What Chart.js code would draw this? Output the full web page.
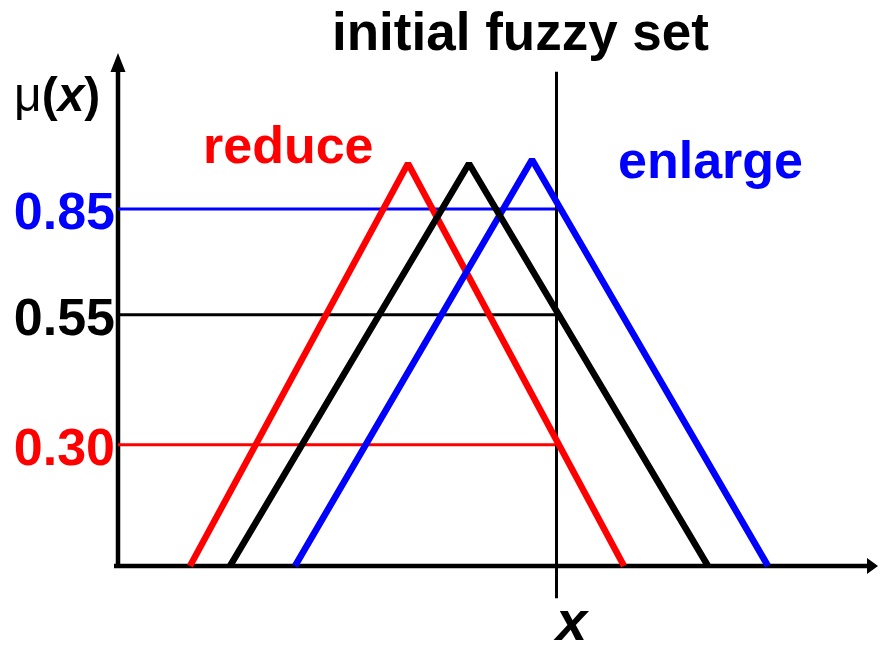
<!DOCTYPE html>
<html>
<head>
<meta charset="utf-8">
<script src="https://cdn.jsdelivr.net/npm/chart.js@4"></script>
<style>
  body { margin: 0; background: #fff; }
</style>
</head>
<body>
<canvas id="fuzzyChart" width="880" height="648"></canvas>
<script>
// crisp input position and the cut levels read at it
const inputX = 43.85;
const levelValues = [0.887, 0.624, 0.301];
const levelLabels = ['0.85', '0.55', '0.30'];
const levelColors = ['#0000ff', '#000000', '#ff0000'];

// triangle corners: left foot, peak, right foot
const initialX = [11.2, 35.1, 59.0];
const initialY = [0, 1, 0];
const enlargeX = [17.7, 41.4, 65.0];
const enlargeY = [0, 1.01, 0];
const reduceX = [7.2, 29.0, 50.6];
const reduceY = [0, 1, 0];

const FONT = '"Liberation Sans", Arial, sans-serif';

function zip(xs, ys) {
    return xs.map((x, i) => ({ x: x, y: ys[i] }));
}

function triangle(label, xs, ys, color) {
    return {
        label: label,
        data: zip(xs, ys),
        borderColor: color,
        borderWidth: 6.5,
        borderJoinStyle: 'bevel',
        pointRadius: 0,
        tension: 0,
        clip: false
    };
}

const datasets = [
    triangle('initial fuzzy set', initialX, initialY, '#000000'),
    triangle('enlarge', enlargeX, enlargeY, '#0000ff'),
    triangle('reduce', reduceX, reduceY, '#ff0000'),
    {
        label: 'x',
        data: [{ x: inputX, y: -0.08 }, { x: inputX, y: 1.228 }],
        borderColor: '#000000',
        borderWidth: 3,
        pointRadius: 0,
        clip: false
    }
];
levelValues.forEach((v, i) => {
    datasets.push({
        label: levelLabels[i],
        data: [{ x: 0, y: v }, { x: inputX, y: v }],
        borderColor: levelColors[i],
        borderWidth: 3,
        pointRadius: 0
    });
});

// axis lines with arrow heads
const axesArrows = {
    id: 'axesArrows',
    beforeDatasetsDraw(chart) {
        const { ctx, chartArea: a } = chart;
        ctx.save();
        ctx.strokeStyle = '#000';
        ctx.fillStyle = '#000';
        ctx.lineWidth = 4.5;
        ctx.beginPath();
        ctx.moveTo(a.left, a.bottom + 2);
        ctx.lineTo(a.left, a.top - 4);
        ctx.moveTo(a.left - 4, a.bottom);
        ctx.lineTo(a.right - 8, a.bottom);
        ctx.stroke();
        ctx.beginPath();
        ctx.moveTo(a.left, a.top - 20);
        ctx.lineTo(a.left - 7.5, a.top - 1);
        ctx.lineTo(a.left + 7.5, a.top - 1);
        ctx.closePath();
        ctx.moveTo(a.right, a.bottom);
        ctx.lineTo(a.right - 11, a.bottom - 8);
        ctx.lineTo(a.right - 11, a.bottom + 8);
        ctx.closePath();
        ctx.fill();
        ctx.restore();
    }
};

// title and annotations
const labelsPlugin = {
    id: 'labelsPlugin',
    afterDraw(chart) {
        const ctx = chart.ctx;
        ctx.save();
        ctx.textBaseline = 'alphabetic';
        ctx.textAlign = 'left';

        ctx.fillStyle = '#000';
        ctx.font = 'bold 53px ' + FONT;
        ctx.fillText('initial fuzzy set', 332, 50);

        ctx.fillStyle = '#ff0000';
        ctx.font = 'bold 52px ' + FONT;
        ctx.fillText('reduce', 203, 163);

        ctx.fillStyle = '#0000ff';
        ctx.fillText('enlarge', 618, 178);

        // μ(x)
        ctx.fillStyle = '#000';
        let x = 14;
        const parts = [
            ['μ', '48px '],
            ['(', 'bold 48px '],
            ['x', 'italic bold 48px '],
            [')', 'bold 48px ']
        ];
        parts.forEach(p => {
            ctx.font = p[1] + FONT;
            ctx.fillText(p[0], x, 111);
            x += ctx.measureText(p[0]).width;
        });

        ctx.font = 'italic bold 56px ' + FONT;
        ctx.fillText('x', 556, 640);
        ctx.restore();
    }
};

new Chart(document.getElementById('fuzzyChart'), {
    type: 'line',
    data: { datasets: datasets },
    options: {
        responsive: false,
        animation: false,
        layout: { padding: { top: 73, bottom: 82, right: 2, left: 0 } },
        plugins: {
            legend: { display: false },
            tooltip: { enabled: false },
            title: { display: false }
        },
        scales: {
            x: {
                type: 'linear',
                min: 0,
                max: 76,
                display: false
            },
            y: {
                type: 'linear',
                min: 0,
                max: 1.225,
                afterBuildTicks: s => {
                    s.ticks = levelValues.map(v => ({ value: v }));
                },
                afterFit: s => {
                    s.width = 118;
                },
                grid: { display: false, drawTicks: false },
                border: { display: false },
                ticks: {
                    autoSkip: false,
                    padding: 3,
                    labelOffset: 6,
                    color: c => levelColors[c.index],
                    font: { family: FONT, size: 52, weight: 'bold' },
                    callback: (v, i) => levelLabels[i]
                }
            }
        }
    },
    plugins: [axesArrows, labelsPlugin]
});
</script>
</body>
</html>
